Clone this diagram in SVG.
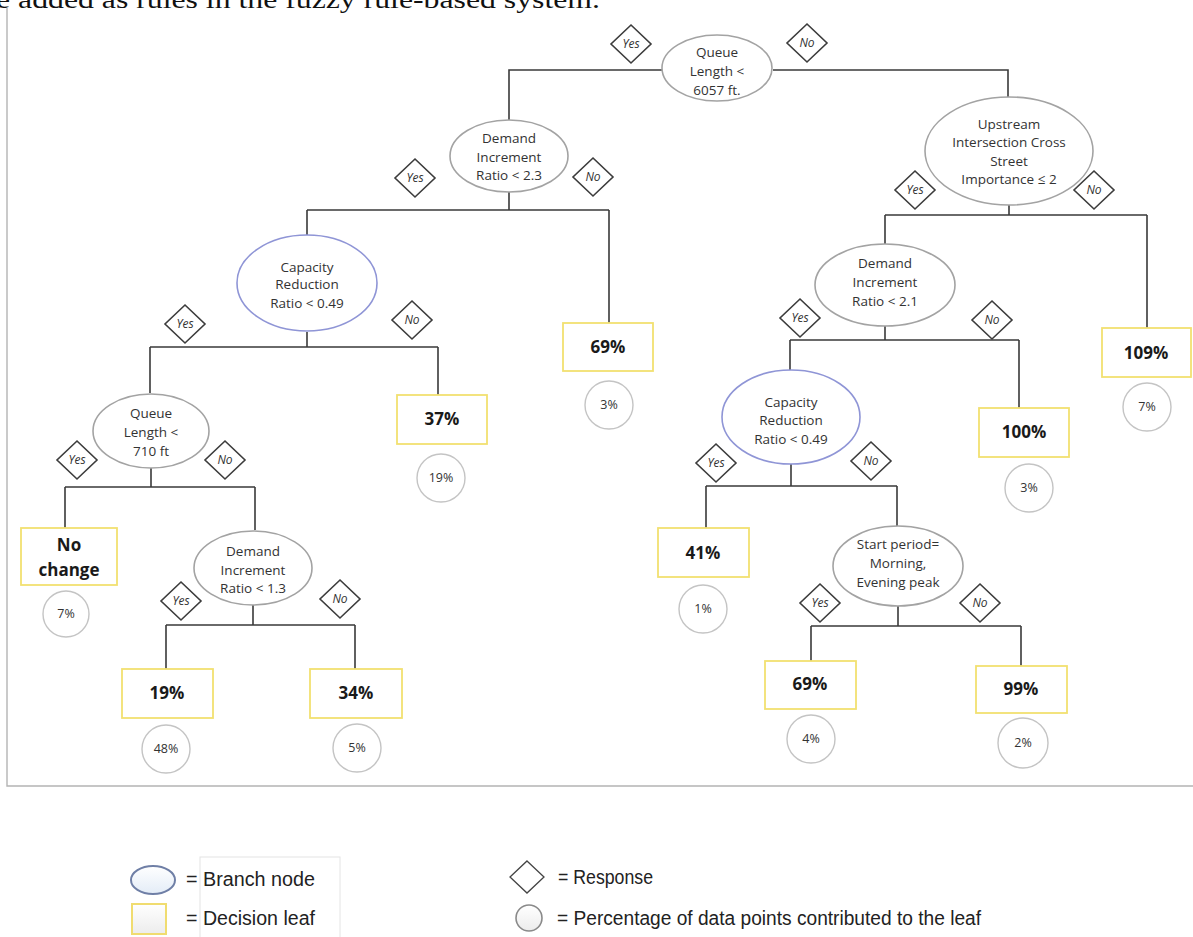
<svg xmlns="http://www.w3.org/2000/svg" width="1193" height="937" viewBox="0 0 1193 937">
  <defs>
    <style>
      .wire { fill: none; stroke: #3a3a3a; stroke-width: 1.6; }
      .frame { fill: none; stroke: #b4b4b4; stroke-width: 1.4; }
      .branch { fill: #ffffff; stroke: #a3a3a3; stroke-width: 1.6; }
      .branch-blue { fill: #ffffff; stroke: #8f95d6; stroke-width: 1.6; }
      .leaf { fill: #ffffff; stroke: #f2e070; stroke-width: 1.8; }
      .share { fill: #ffffff; stroke: #c4c4c4; stroke-width: 1.4; }
      .resp { fill: #ffffff; stroke: #3c3c3c; stroke-width: 1.6; }
      .cond { font-family: "Open Sans", "Liberation Sans", sans-serif; font-size: 13.5px; fill: #333333; text-anchor: middle; }
      .value { font-family: "Open Sans", "Liberation Sans", sans-serif; font-size: 17px; font-weight: bold; fill: #1a1a1a; text-anchor: middle; }
      .pct { font-family: "Open Sans", "Liberation Sans", sans-serif; font-size: 12.5px; fill: #333333; text-anchor: middle; }
      .ans { font-family: "Open Sans", "Liberation Sans", sans-serif; font-size: 12px; font-style: italic; fill: #333333; text-anchor: middle; }
      .key { font-family: "Liberation Sans Narrow", "Liberation Sans", sans-serif; font-size: 20px; fill: #222222; }
      .caption { font-family: "Liberation Serif", serif; font-size: 26px; fill: #111111; }
    </style>
    <linearGradient id="keyBlue" x1="0" y1="0" x2="0" y2="1">
      <stop offset="0" stop-color="#ffffff"/>
      <stop offset="1" stop-color="#e3ecf7"/>
    </linearGradient>
    <linearGradient id="keyGray" x1="0" y1="0" x2="0" y2="1">
      <stop offset="0" stop-color="#ffffff"/>
      <stop offset="1" stop-color="#ececec"/>
    </linearGradient>
    <polygon id="diamond" points="0,-19 20,0 0,19 -20,0"/>
  </defs>

  <rect width="1193" height="937" fill="#ffffff"/>

  <!-- running text line cut at the top edge -->
  <text class="caption" x="-4" y="8" textLength="604" lengthAdjust="spacingAndGlyphs">e added as rules in the fuzzy rule-based system.</text>

  <!-- figure frame -->
  <path class="frame" d="M7,8 V786 H1193"/>

  <!-- connectors -->
  <g id="connectors">
    <path class="wire" d="M509,128 V70 H663"/>
    <path class="wire" d="M773,70 H1008 V97"/>
    <path class="wire" d="M509,192 V210 M307,210 H609 M307,210 V235 M609,210 V323"/>
    <path class="wire" d="M307,332 V347 M150,347 H438 M150,347 V393 M438,347 V395"/>
    <path class="wire" d="M151,468 V487 M65,487 H255 M65,487 V528 M255,487 V530"/>
    <path class="wire" d="M253,605 V625 M166,625 H355 M166,625 V669 M355,625 V669"/>
    <path class="wire" d="M1009,205 V215 M885,215 H1147 M885,215 V244 M1147,215 V328"/>
    <path class="wire" d="M885,326 V340 M790,340 H1019 M790,340 V370 M1019,340 V408"/>
    <path class="wire" d="M791,464 V486 M706,486 H897 M706,486 V528 M897,486 V527"/>
    <path class="wire" d="M898,606 V626 M811,626 H1021 M811,626 V661 M1021,626 V666"/>
  </g>

  <!-- branch nodes -->
  <g id="queue-6057">
    <ellipse class="branch" cx="717" cy="68" rx="55" ry="33"/>
    <text class="cond" x="717" y="57">Queue</text>
    <text class="cond" x="717" y="76">Length &lt;</text>
    <text class="cond" x="717" y="95">6057 ft.</text>
  </g>
  <g id="demand-2-3">
    <ellipse class="branch" cx="509" cy="156" rx="59" ry="36"/>
    <text class="cond" x="509" y="143">Demand</text>
    <text class="cond" x="509" y="162">Increment</text>
    <text class="cond" x="509" y="180">Ratio &lt; 2.3</text>
  </g>
  <g id="capacity-left">
    <ellipse class="branch-blue" cx="307" cy="283" rx="70" ry="48"/>
    <text class="cond" x="307" y="272">Capacity</text>
    <text class="cond" x="307" y="289">Reduction</text>
    <text class="cond" x="307" y="308">Ratio &lt; 0.49</text>
  </g>
  <g id="queue-710">
    <ellipse class="branch" cx="151" cy="431" rx="58" ry="37"/>
    <text class="cond" x="151" y="418">Queue</text>
    <text class="cond" x="151" y="437">Length &lt;</text>
    <text class="cond" x="151" y="456">710 ft</text>
  </g>
  <g id="demand-1-3">
    <ellipse class="branch" cx="253" cy="568" rx="59" ry="37"/>
    <text class="cond" x="253" y="556">Demand</text>
    <text class="cond" x="253" y="575">Increment</text>
    <text class="cond" x="253" y="593">Ratio &lt; 1.3</text>
  </g>
  <g id="upstream">
    <ellipse class="branch" cx="1009" cy="151" rx="84" ry="54"/>
    <text class="cond" x="1009" y="129">Upstream</text>
    <text class="cond" x="1009" y="147">Intersection Cross</text>
    <text class="cond" x="1009" y="166">Street</text>
    <text class="cond" x="1009" y="184">Importance ≤ 2</text>
  </g>
  <g id="demand-2-1">
    <ellipse class="branch" cx="885" cy="285" rx="70" ry="41"/>
    <text class="cond" x="885" y="268">Demand</text>
    <text class="cond" x="885" y="287">Increment</text>
    <text class="cond" x="885" y="306">Ratio &lt; 2.1</text>
  </g>
  <g id="capacity-right">
    <ellipse class="branch-blue" cx="791" cy="417" rx="69" ry="47"/>
    <text class="cond" x="791" y="407">Capacity</text>
    <text class="cond" x="791" y="425">Reduction</text>
    <text class="cond" x="791" y="444">Ratio &lt; 0.49</text>
  </g>
  <g id="start-period">
    <ellipse class="branch" cx="898" cy="566" rx="65" ry="40"/>
    <text class="cond" x="898" y="549">Start period=</text>
    <text class="cond" x="898" y="568">Morning,</text>
    <text class="cond" x="898" y="587">Evening peak</text>
  </g>

  <!-- decision leaves with their data shares -->
  <g id="leaf-69-mid">
    <rect class="leaf" x="563" y="323" width="90" height="48"/>
    <text class="value" x="608" y="353">69%</text>
    <circle class="share" cx="609" cy="405" r="24"/>
    <text class="pct" x="609" y="409">3%</text>
  </g>
  <g id="leaf-37">
    <rect class="leaf" x="397" y="395" width="90" height="49"/>
    <text class="value" x="442" y="425">37%</text>
    <circle class="share" cx="441" cy="478" r="24"/>
    <text class="pct" x="441" y="482">19%</text>
  </g>
  <g id="leaf-no-change">
    <rect class="leaf" x="21" y="528" width="96" height="57"/>
    <text class="value" x="69" y="551">No</text>
    <text class="value" x="69" y="576">change</text>
    <circle class="share" cx="66" cy="614" r="23"/>
    <text class="pct" x="66" y="618">7%</text>
  </g>
  <g id="leaf-19">
    <rect class="leaf" x="122" y="669" width="91" height="49"/>
    <text class="value" x="167" y="699">19%</text>
    <circle class="share" cx="166" cy="749" r="24"/>
    <text class="pct" x="166" y="753">48%</text>
  </g>
  <g id="leaf-34">
    <rect class="leaf" x="310" y="669" width="92" height="49"/>
    <text class="value" x="356" y="699">34%</text>
    <circle class="share" cx="357" cy="748" r="24"/>
    <text class="pct" x="357" y="752">5%</text>
  </g>
  <g id="leaf-109">
    <rect class="leaf" x="1102" y="328" width="89" height="49"/>
    <text class="value" x="1146" y="359">109%</text>
    <circle class="share" cx="1147" cy="407" r="24"/>
    <text class="pct" x="1147" y="411">7%</text>
  </g>
  <g id="leaf-100">
    <rect class="leaf" x="979" y="408" width="90" height="49"/>
    <text class="value" x="1024" y="438">100%</text>
    <circle class="share" cx="1029" cy="488" r="24"/>
    <text class="pct" x="1029" y="492">3%</text>
  </g>
  <g id="leaf-41">
    <rect class="leaf" x="658" y="528" width="91" height="49"/>
    <text class="value" x="703" y="559">41%</text>
    <circle class="share" cx="703" cy="609" r="24"/>
    <text class="pct" x="703" y="613">1%</text>
  </g>
  <g id="leaf-69-right">
    <rect class="leaf" x="765" y="661" width="91" height="48"/>
    <text class="value" x="810" y="690">69%</text>
    <circle class="share" cx="811" cy="739" r="24"/>
    <text class="pct" x="811" y="743">4%</text>
  </g>
  <g id="leaf-99">
    <rect class="leaf" x="976" y="666" width="91" height="47"/>
    <text class="value" x="1021" y="695">99%</text>
    <circle class="share" cx="1023" cy="743" r="25"/>
    <text class="pct" x="1023" y="747">2%</text>
  </g>

  <!-- responses on each split -->
  <g id="responses">
    <g transform="translate(631,44)"><use href="#diamond" class="resp"/><text class="ans" y="4">Yes</text></g>
    <g transform="translate(807,43)"><use href="#diamond" class="resp"/><text class="ans" y="4">No</text></g>
    <g transform="translate(415,178)"><use href="#diamond" class="resp"/><text class="ans" y="4">Yes</text></g>
    <g transform="translate(593,177)"><use href="#diamond" class="resp"/><text class="ans" y="4">No</text></g>
    <g transform="translate(185,324)"><use href="#diamond" class="resp"/><text class="ans" y="4">Yes</text></g>
    <g transform="translate(412,320)"><use href="#diamond" class="resp"/><text class="ans" y="4">No</text></g>
    <g transform="translate(77,460)"><use href="#diamond" class="resp"/><text class="ans" y="4">Yes</text></g>
    <g transform="translate(225,460)"><use href="#diamond" class="resp"/><text class="ans" y="4">No</text></g>
    <g transform="translate(181,601)"><use href="#diamond" class="resp"/><text class="ans" y="4">Yes</text></g>
    <g transform="translate(340,599)"><use href="#diamond" class="resp"/><text class="ans" y="4">No</text></g>
    <g transform="translate(915,190)"><use href="#diamond" class="resp"/><text class="ans" y="4">Yes</text></g>
    <g transform="translate(1094,190)"><use href="#diamond" class="resp"/><text class="ans" y="4">No</text></g>
    <g transform="translate(800,318)"><use href="#diamond" class="resp"/><text class="ans" y="4">Yes</text></g>
    <g transform="translate(992,320)"><use href="#diamond" class="resp"/><text class="ans" y="4">No</text></g>
    <g transform="translate(716,463)"><use href="#diamond" class="resp"/><text class="ans" y="4">Yes</text></g>
    <g transform="translate(871,461)"><use href="#diamond" class="resp"/><text class="ans" y="4">No</text></g>
    <g transform="translate(820,603)"><use href="#diamond" class="resp"/><text class="ans" y="4">Yes</text></g>
    <g transform="translate(980,603)"><use href="#diamond" class="resp"/><text class="ans" y="4">No</text></g>
  </g>

  <!-- legend -->
  <g id="legend">
    <rect x="200" y="857" width="140" height="86" fill="none" stroke="#e4e4e4" stroke-width="1"/>
    <ellipse cx="153" cy="880" rx="22" ry="14" fill="url(#keyBlue)" stroke="#6f7fa6" stroke-width="2"/>
    <text class="key" x="186" y="886" textLength="129" lengthAdjust="spacingAndGlyphs">= Branch node</text>
    <rect x="132" y="904" width="34" height="30" fill="url(#keyGray)" stroke="#f0dc70" stroke-width="2"/>
    <text class="key" x="186" y="925" textLength="129" lengthAdjust="spacingAndGlyphs">= Decision leaf</text>
    <polygon points="527,861 544,877 527,893 510,877" fill="#ffffff" stroke="#444444" stroke-width="1.3"/>
    <text class="key" x="558" y="884" textLength="95" lengthAdjust="spacingAndGlyphs">= Response</text>
    <circle cx="529" cy="918" r="13" fill="url(#keyGray)" stroke="#8a8a8a" stroke-width="1.6"/>
    <text class="key" x="557" y="925" textLength="424" lengthAdjust="spacingAndGlyphs">= Percentage of data points contributed to the leaf</text>
  </g>
</svg>
